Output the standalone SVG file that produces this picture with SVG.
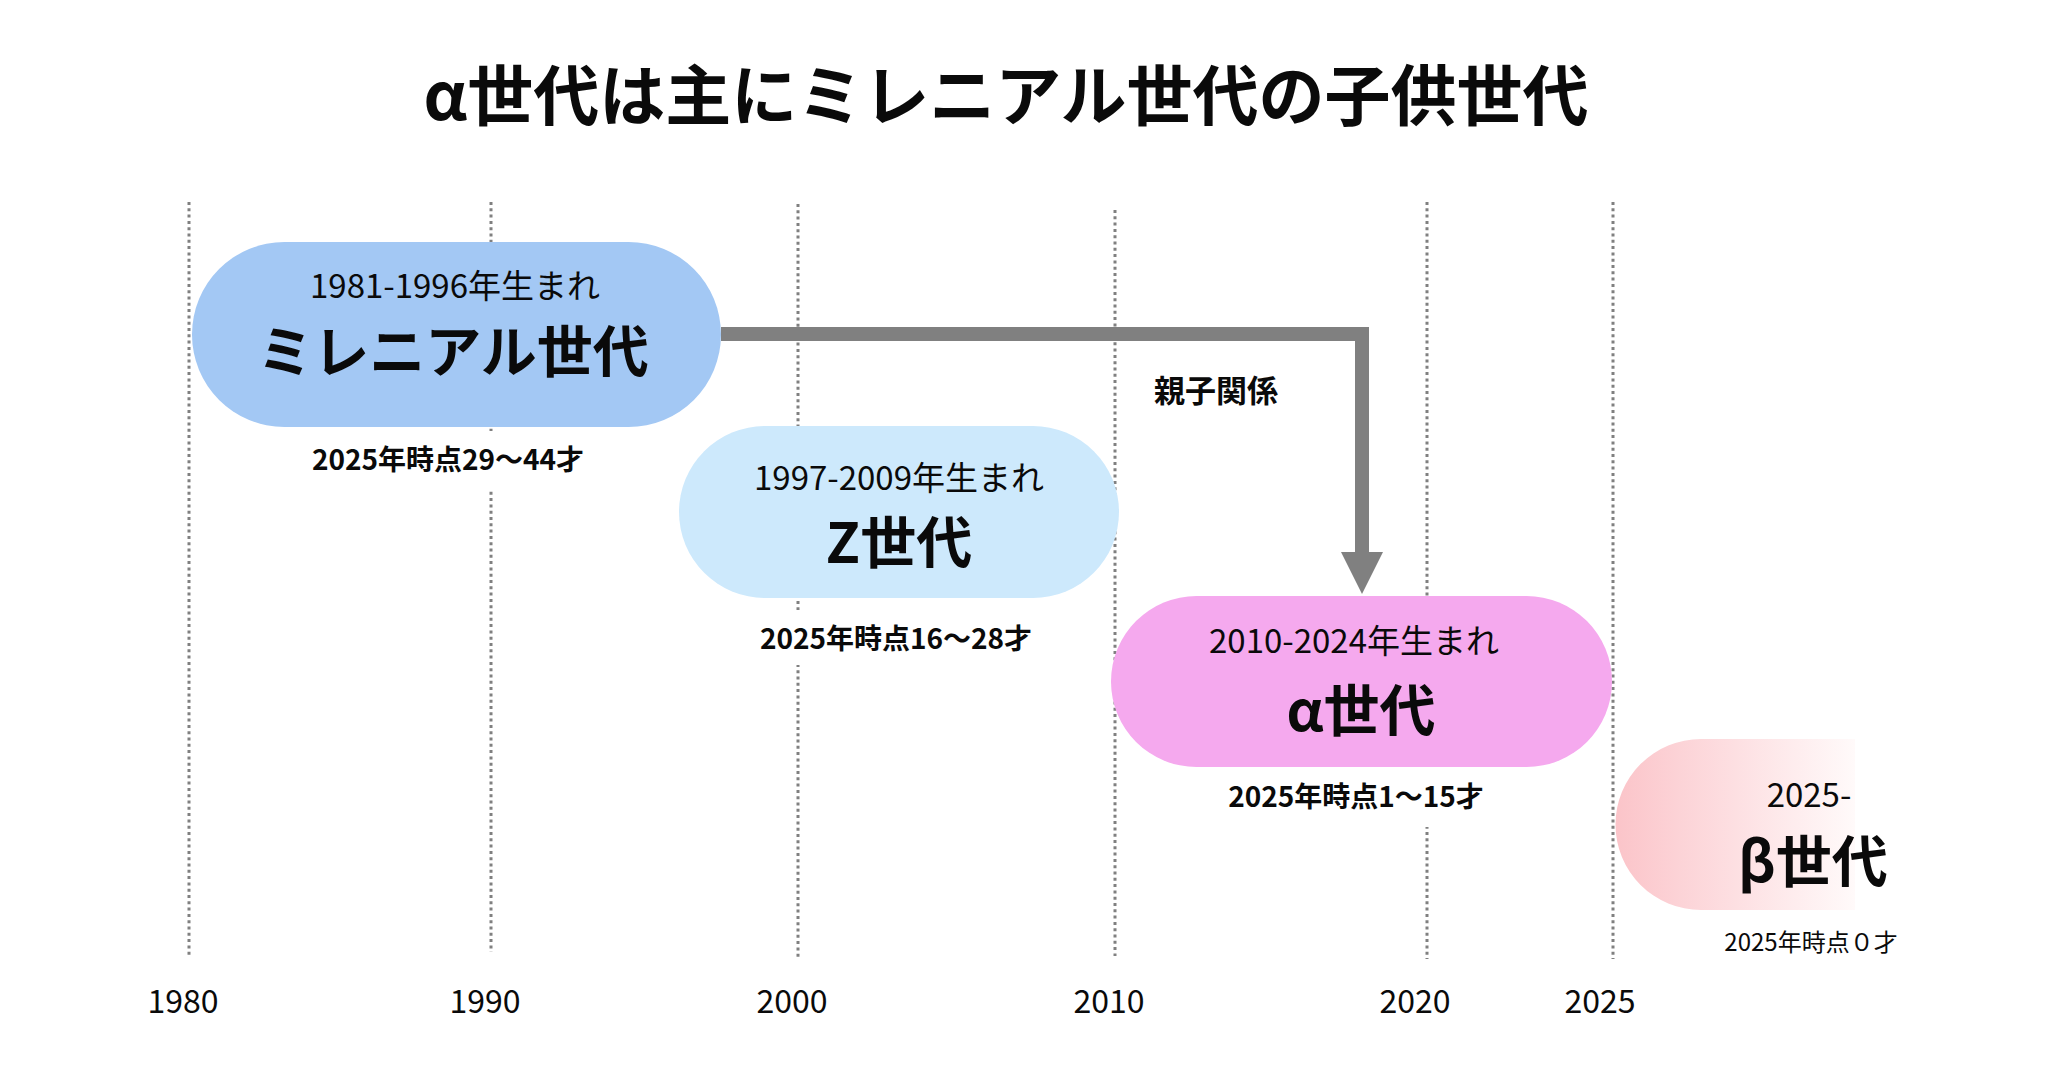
<svg xmlns="http://www.w3.org/2000/svg" width="2048" height="1081" viewBox="0 0 2048 1081">
<defs>
<style>
text{font-family:"Noto Sans CJK JP","Noto Sans",sans-serif;fill:#0a0a0a;text-anchor:middle}
.title{font-size:66px;font-weight:700}
.yr{font-size:32px;font-weight:400}
.sub{font-size:33px;font-weight:400}
.big{font-size:56px;font-weight:700}
.age{font-size:28px;font-weight:700}
.agen{font-size:24px;font-weight:400}
.rel{font-size:31px;font-weight:700}
.grid{stroke:#808080;stroke-width:3;stroke-dasharray:3 3.3;fill:none}
.bg{fill:#fff}
</style>
<linearGradient id="betaGrad" x1="1616" y1="0" x2="1855" y2="0" gradientUnits="userSpaceOnUse">
<stop offset="0" stop-color="#fbc4c9"/>
<stop offset="0.25" stop-color="#fcd2d6"/>
<stop offset="1" stop-color="#fffafa"/>
</linearGradient>
</defs>
<rect width="2048" height="1081" fill="#fff"/>
<text class="title" x="1006" y="120">α世代は主にミレニアル世代の子供世代</text>
<g id="grid">
<line class="grid" x1="189" y1="202" x2="189" y2="957"/>
<line class="grid" x1="491" y1="202" x2="491" y2="952"/>
<line class="grid" x1="798" y1="204" x2="798" y2="957"/>
<line class="grid" x1="1115" y1="210" x2="1115" y2="956"/>
<line class="grid" x1="1427" y1="202" x2="1427" y2="959"/>
<line class="grid" x1="1613" y1="202" x2="1613" y2="959"/>
</g>
<g id="years">
<text class="yr" x="183" y="1013">1980</text>
<text class="yr" x="485" y="1013">1990</text>
<text class="yr" x="792" y="1013">2000</text>
<text class="yr" x="1109" y="1013">2010</text>
<text class="yr" x="1415" y="1013">2020</text>
<text class="yr" x="1600" y="1013">2025</text>
</g>
<g id="millennial">
<rect x="192" y="242" width="529" height="185" rx="92.5" fill="#a3c8f4"/>
<text class="sub" x="455" y="298">1981-1996年生まれ</text>
<text class="big" x="453" y="372">ミレニアル世代</text>
<rect class="bg" x="310" y="431" width="276" height="59"/>
<text class="age" x="448" y="470">2025年時点29〜44才</text>
</g>
<g id="genz">
<rect x="679" y="426" width="440" height="172" rx="86" fill="#cde9fc"/>
<text class="sub" x="899" y="490">1997-2009年生まれ</text>
<text class="big" x="899" y="563">Z世代</text>
<rect class="bg" x="758" y="610" width="276" height="55"/>
<text class="age" x="896" y="649">2025年時点16〜28才</text>
</g>
<g id="alpha">
<rect x="1111" y="596" width="501" height="171" rx="85.5" fill="#f5a9ee"/>
<text class="sub" x="1354" y="653">2010-2024年生まれ</text>
<text class="big" x="1361" y="731">α世代</text>
<rect class="bg" x="1225" y="768" width="262" height="59"/>
<text class="age" x="1356" y="807">2025年時点1〜15才</text>
</g>
<g id="beta">
<path d="M1701,739 H1855 V910 H1701 A85.5,85.5 0 0 1 1701,739 Z" fill="url(#betaGrad)"/>
<text class="sub" x="1809" y="807">2025-</text>
<text class="big" x="1813" y="882">β世代</text>
<text class="agen" x="1811" y="951">2025年時点０才</text>
</g>
<g id="connectors">
<polyline points="721,334 1362,334 1362,552" fill="none" stroke="#808080" stroke-width="14"/>
<path d="M1341,552 L1383,552 L1362,594 Z" fill="#808080"/>
<text class="rel" x="1216" y="402">親子関係</text>
</g>
</svg>
